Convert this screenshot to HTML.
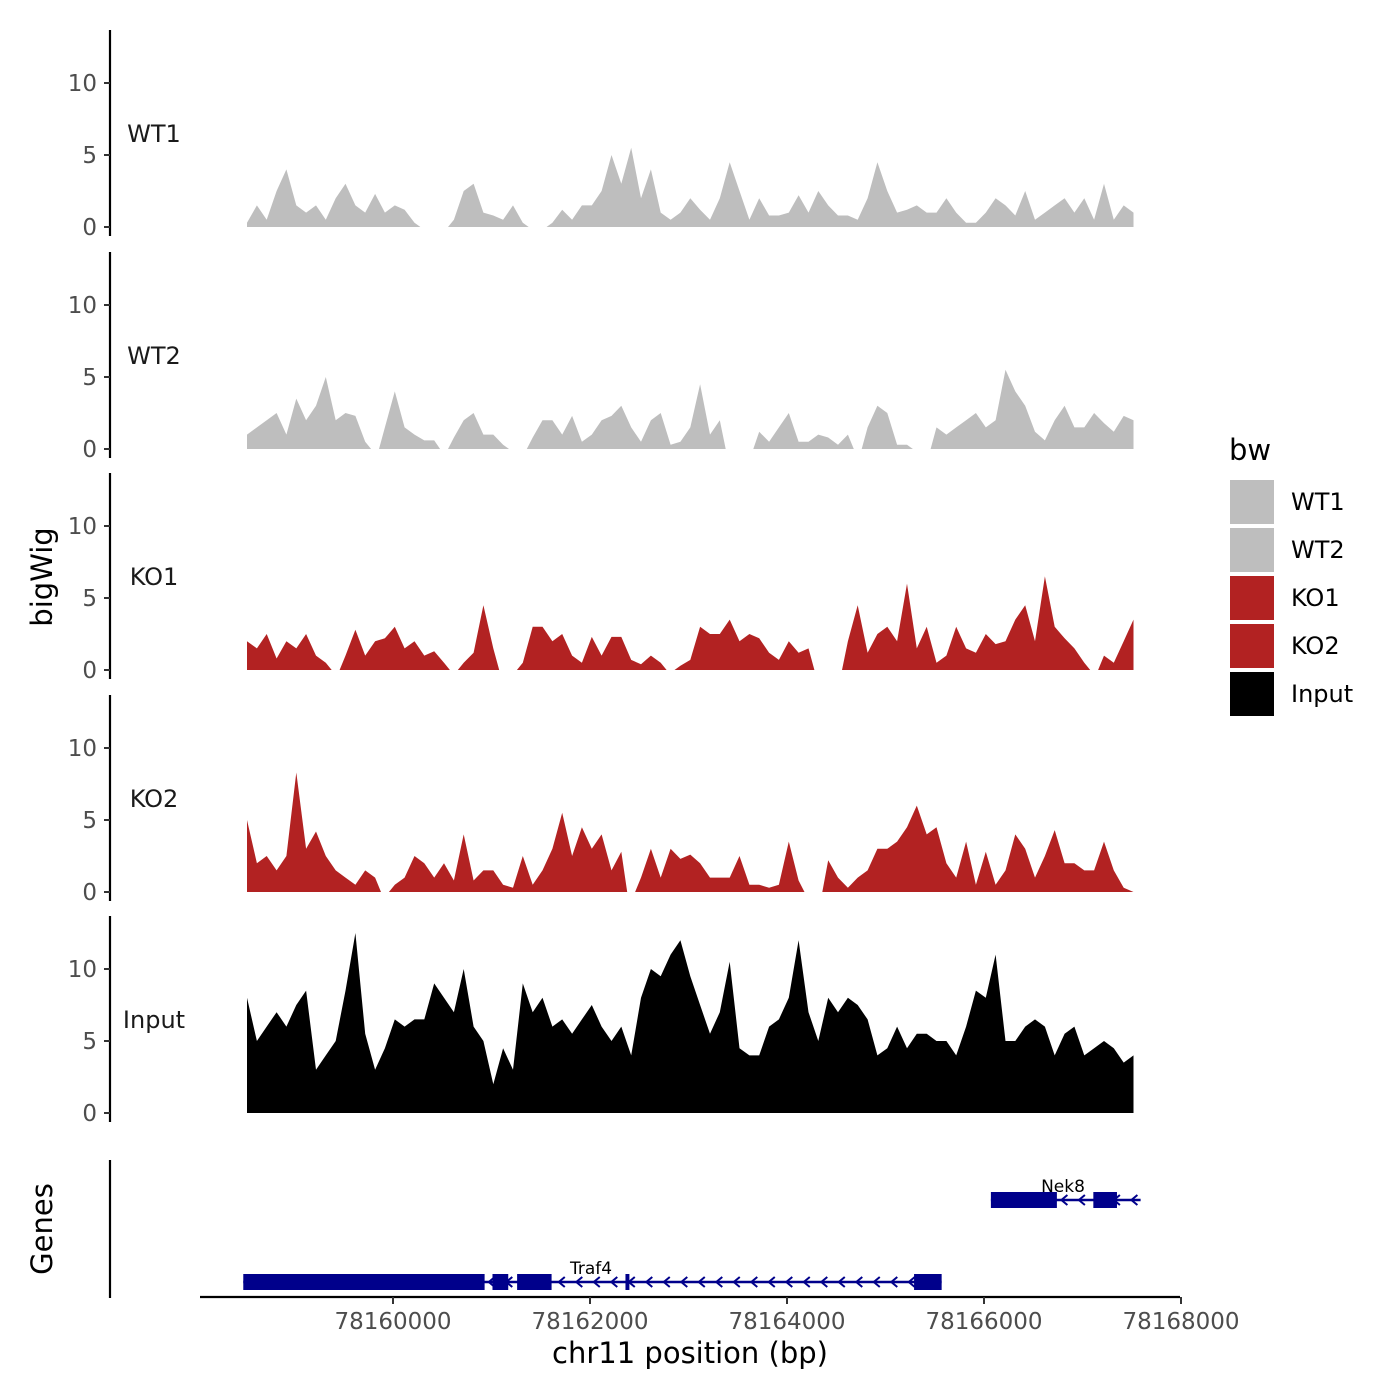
<!DOCTYPE html>
<html><head><meta charset="utf-8"><style>
html,body{margin:0;padding:0;background:#fff}
svg{display:block;font-family:"DejaVu Sans","Liberation Sans",sans-serif}
</style></head><body>
<svg id="chart" width="1400" height="1400" viewBox="0 0 1400 1400"></svg>
<script>
const trackNames=["WT1","WT2","KO1","KO2","Input"];
const trackColors=["#bebebe","#bebebe","#b22222","#b22222","#000000"];
const startBp=78158518, stepBp=100;
const wt1=[0.3,1.5,0.5,2.5,4,1.5,1,1.5,0.5,2,3,1.5,1,2.3,1,1.5,1.2,0.3,null,null,null,0.5,2.5,3,1,0.8,0.5,1.5,0.3,null,null,0.3,1.2,0.5,1.5,1.5,2.5,5,3,5.5,2,4,1,0.5,1,2,1.2,0.5,2,4.5,2.5,0.5,2,0.8,0.8,1,2.2,1,2.5,1.5,0.8,0.8,0.5,2,4.5,2.5,1,1.2,1.5,1,1,2,1,0.3,0.3,1,2,1.5,0.8,2.5,0.5,1,1.5,2,1,2,0.5,3,0.5,1.5,1];
const wt2=[1,1.5,2,2.5,1,3.5,2,3,5,2,2.5,2.3,0.5,null,1.5,4,1.5,1,0.6,0.6,null,0.8,2,2.5,1,1,0.3,null,null,0.8,2,2,1,2.3,0.5,1,2,2.3,3,1.5,0.5,2,2.5,0.3,0.5,1.5,4.5,1,2,null,null,null,1.2,0.5,1.5,2.5,0.5,0.5,1,0.8,0.3,1,null,1.5,3,2.5,0.3,0.3,null,null,1.5,1,1.5,2,2.5,1.5,2,5.5,4,3,1.2,0.6,2,3,1.5,1.5,2.5,1.8,1.2,2.3,2];
const ko1=[2,1.5,2.5,0.8,2,1.5,2.5,1,0.5,null,1,2.8,1,2,2.2,3,1.5,2,1,1.3,0.5,null,0.5,1.2,4.5,1.5,null,null,0.5,3,3,2,2.5,1,0.5,2.3,1,2.3,2.3,0.7,0.4,1,0.5,null,0.3,0.7,3,2.5,2.5,3.5,2,2.5,2.2,1.2,0.7,2,1.2,1.5,null,null,null,2,4.5,1.2,2.5,3,2,6,1.5,3,0.5,1,3,1.5,1.2,2.5,1.8,2,3.5,4.5,2,6.5,3,2.2,1.5,0.5,null,1,0.5,2,3.5];
const ko2=[5,2,2.5,1.5,2.5,8.3,3,4.2,2.5,1.5,1,0.5,1.5,1,null,0.5,1,2.5,2,1,2,0.8,4,0.8,1.5,1.5,0.5,0.3,2.5,0.5,1.5,3,5.5,2.5,4.5,3,4,1.5,2.8,null,1,3,1,3,2.3,2.6,2,1,1,1,2.5,0.5,0.5,0.3,0.5,3.5,0.8,null,null,2.2,1,0.3,1,1.5,3,3,3.5,4.5,6,4,4.5,2,1,3.5,0.5,2.8,0.5,1.5,4,3,1,2.5,4.3,2,2,1.5,1.5,3.5,1.5,0.3,0];
const input=[8,5,6,7,6,7.5,8.5,3,4,5,8.5,12.5,5.5,3,4.5,6.5,6,6.5,6.5,9,8,7,10,6,5,2,4.5,3,9,7,8,6,6.5,5.5,6.5,7.5,6,5,6,4,8,10,9.5,11,12,9.5,7.5,5.5,7,10.5,4.5,4,4,6,6.5,8,12,7,5,8,7,8,7.5,6.5,4,4.5,6,4.5,5.5,5.5,5,5,4,6,8.5,8,11,5,5,6,6.5,6,4,5.5,6,4,4.5,5,4.5,3.5,4];
const trackValues=[wt1,wt2,ko1,ko2,input];
const xTicks=[78160000,78162000,78164000,78166000,78168000];
const yTicks=[0,5,10];
const traf4Exons=[[78158480,78160930],[78161010,78161170],[78161260,78161610],[78162360,78162400],[78165290,78165570]];
const traf4Span=[78158480,78165570];
const nek8Exons=[[78166070,78166740],[78167110,78167350]];
const nek8Span=[78166070,78167590];
const legendLabels=["WT1","WT2","KO1","KO2","Input"];

const NS="http://www.w3.org/2000/svg";
const svg=document.getElementById('chart');
function el(t,a,p){const e=document.createElementNS(NS,t);for(const k in a)e.setAttribute(k,a[k]);(p||svg).appendChild(e);return e;}
const xS=bp=>393+(bp-78160000)*0.0985;
const zeroY=[227,449,670,892,1113];
const yS=(t,v)=>zeroY[t]-v*14.4;

trackNames.forEach((nm,t)=>{
  const g=el('g',{});
  
  
  const vals=trackValues[t];
  let segs=[],cur=[];
  vals.forEach((v,i)=>{if(v===null){if(cur.length)segs.push(cur);cur=[];}else cur.push([xS(startBp+i*stepBp),yS(t,v),i]);});
  if(cur.length)segs.push(cur);
  const half=stepBp*0.0985*0.6;
  segs.forEach(s=>{
    const first=s[0],last=s[s.length-1];
    const x0=first[2]===0?first[0]:first[0]-half;
    const x1=last[2]===vals.length-1?last[0]:last[0]+half;
    let d='M'+x0.toFixed(1)+','+zeroY[t];
    s.forEach(p=>d+='L'+p[0].toFixed(1)+','+p[1].toFixed(1));
    d+='L'+x1.toFixed(1)+','+zeroY[t]+'Z';
    const p=el('path',{d:d,fill:trackColors[t]},g);
    
    
  });
  const ax=el('line',{x1:110,x2:110,y1:zeroY[t]-197,y2:zeroY[t]+9,stroke:'#000','stroke-width':2.2});
  
  
  yTicks.forEach(v=>{
    el('line',{x1:104,x2:110,y1:yS(t,v),y2:yS(t,v),stroke:'#333','stroke-width':2});
    const tx=el('text',{x:97,y:yS(t,v)+8,'text-anchor':'end','font-size':23,fill:'#4d4d4d'});
    tx.textContent=v;
    
    
  });
  const lb=el('text',{x:154,y:zeroY[t]-85,'text-anchor':'middle','font-size':24,fill:'#1a1a1a'});
  lb.textContent=nm;
  
  
});

// genes
const gax=el('line',{x1:110,x2:110,y1:1160,y2:1298,stroke:'#000','stroke-width':2.2});


function gene(name,span,exons,y,lx,ly){
  const g=el('g',{});
  
  
  el('line',{x1:xS(span[0]),x2:xS(span[1]),y1:y,y2:y,stroke:'#00008b','stroke-width':2.5},g);
  for(let x=xS(span[0])+20;x<xS(span[1]);x+=17.5){
    el('path',{d:`M${x+4},${y-5}L${x-2},${y}L${x+4},${y+5}`,stroke:'#00008b','stroke-width':2,fill:'none'},g);
  }
  exons.forEach(e=>{el('rect',{x:xS(e[0]),y:y-8,width:xS(e[1])-xS(e[0]),height:16,fill:'#00008b'},g);});
  const t=el('text',{x:lx,y:ly,'text-anchor':'middle','font-size':17,fill:'#000'},g);
  t.textContent=name;
}
gene('Traf4',traf4Span,traf4Exons,1282,591,1274);
gene('Nek8',nek8Span,nek8Exons,1200,1063,1192);

// x axis
const xa=el('line',{x1:200,x2:1180,y1:1297,y2:1297,stroke:'#000','stroke-width':2.2});


xTicks.forEach(v=>{
  el('line',{x1:xS(v),x2:xS(v),y1:1297,y2:1304,stroke:'#333','stroke-width':2});
  const t=el('text',{x:xS(v),y:1329,'text-anchor':'middle','font-size':23,fill:'#4d4d4d'});
  t.textContent=v;
  
  
});
const xt=el('text',{x:690,y:1363,'text-anchor':'middle','font-size':29,fill:'#000'});
xt.textContent='chr11 position (bp)';


const yt=el('text',{x:0,y:0,transform:'translate(52,577) rotate(-90)','text-anchor':'middle','font-size':29,fill:'#000'});
yt.textContent='bigWig';


const gt=el('text',{x:0,y:0,transform:'translate(52,1229) rotate(-90)','text-anchor':'middle','font-size':29,fill:'#000'});
gt.textContent='Genes';



// legend
const lt=el('text',{x:1229,y:460,'font-size':29,fill:'#000'});
lt.textContent='bw';


legendLabels.forEach((l,i)=>{
  const g=el('g',{});
  
  
  el('rect',{x:1230,y:480+i*48,width:44,height:44,fill:trackColors[i]},g);
  const t=el('text',{x:1291,y:510+i*48,'font-size':24,fill:'#000'},g);
  t.textContent=l;
});
</script>
</body></html>
